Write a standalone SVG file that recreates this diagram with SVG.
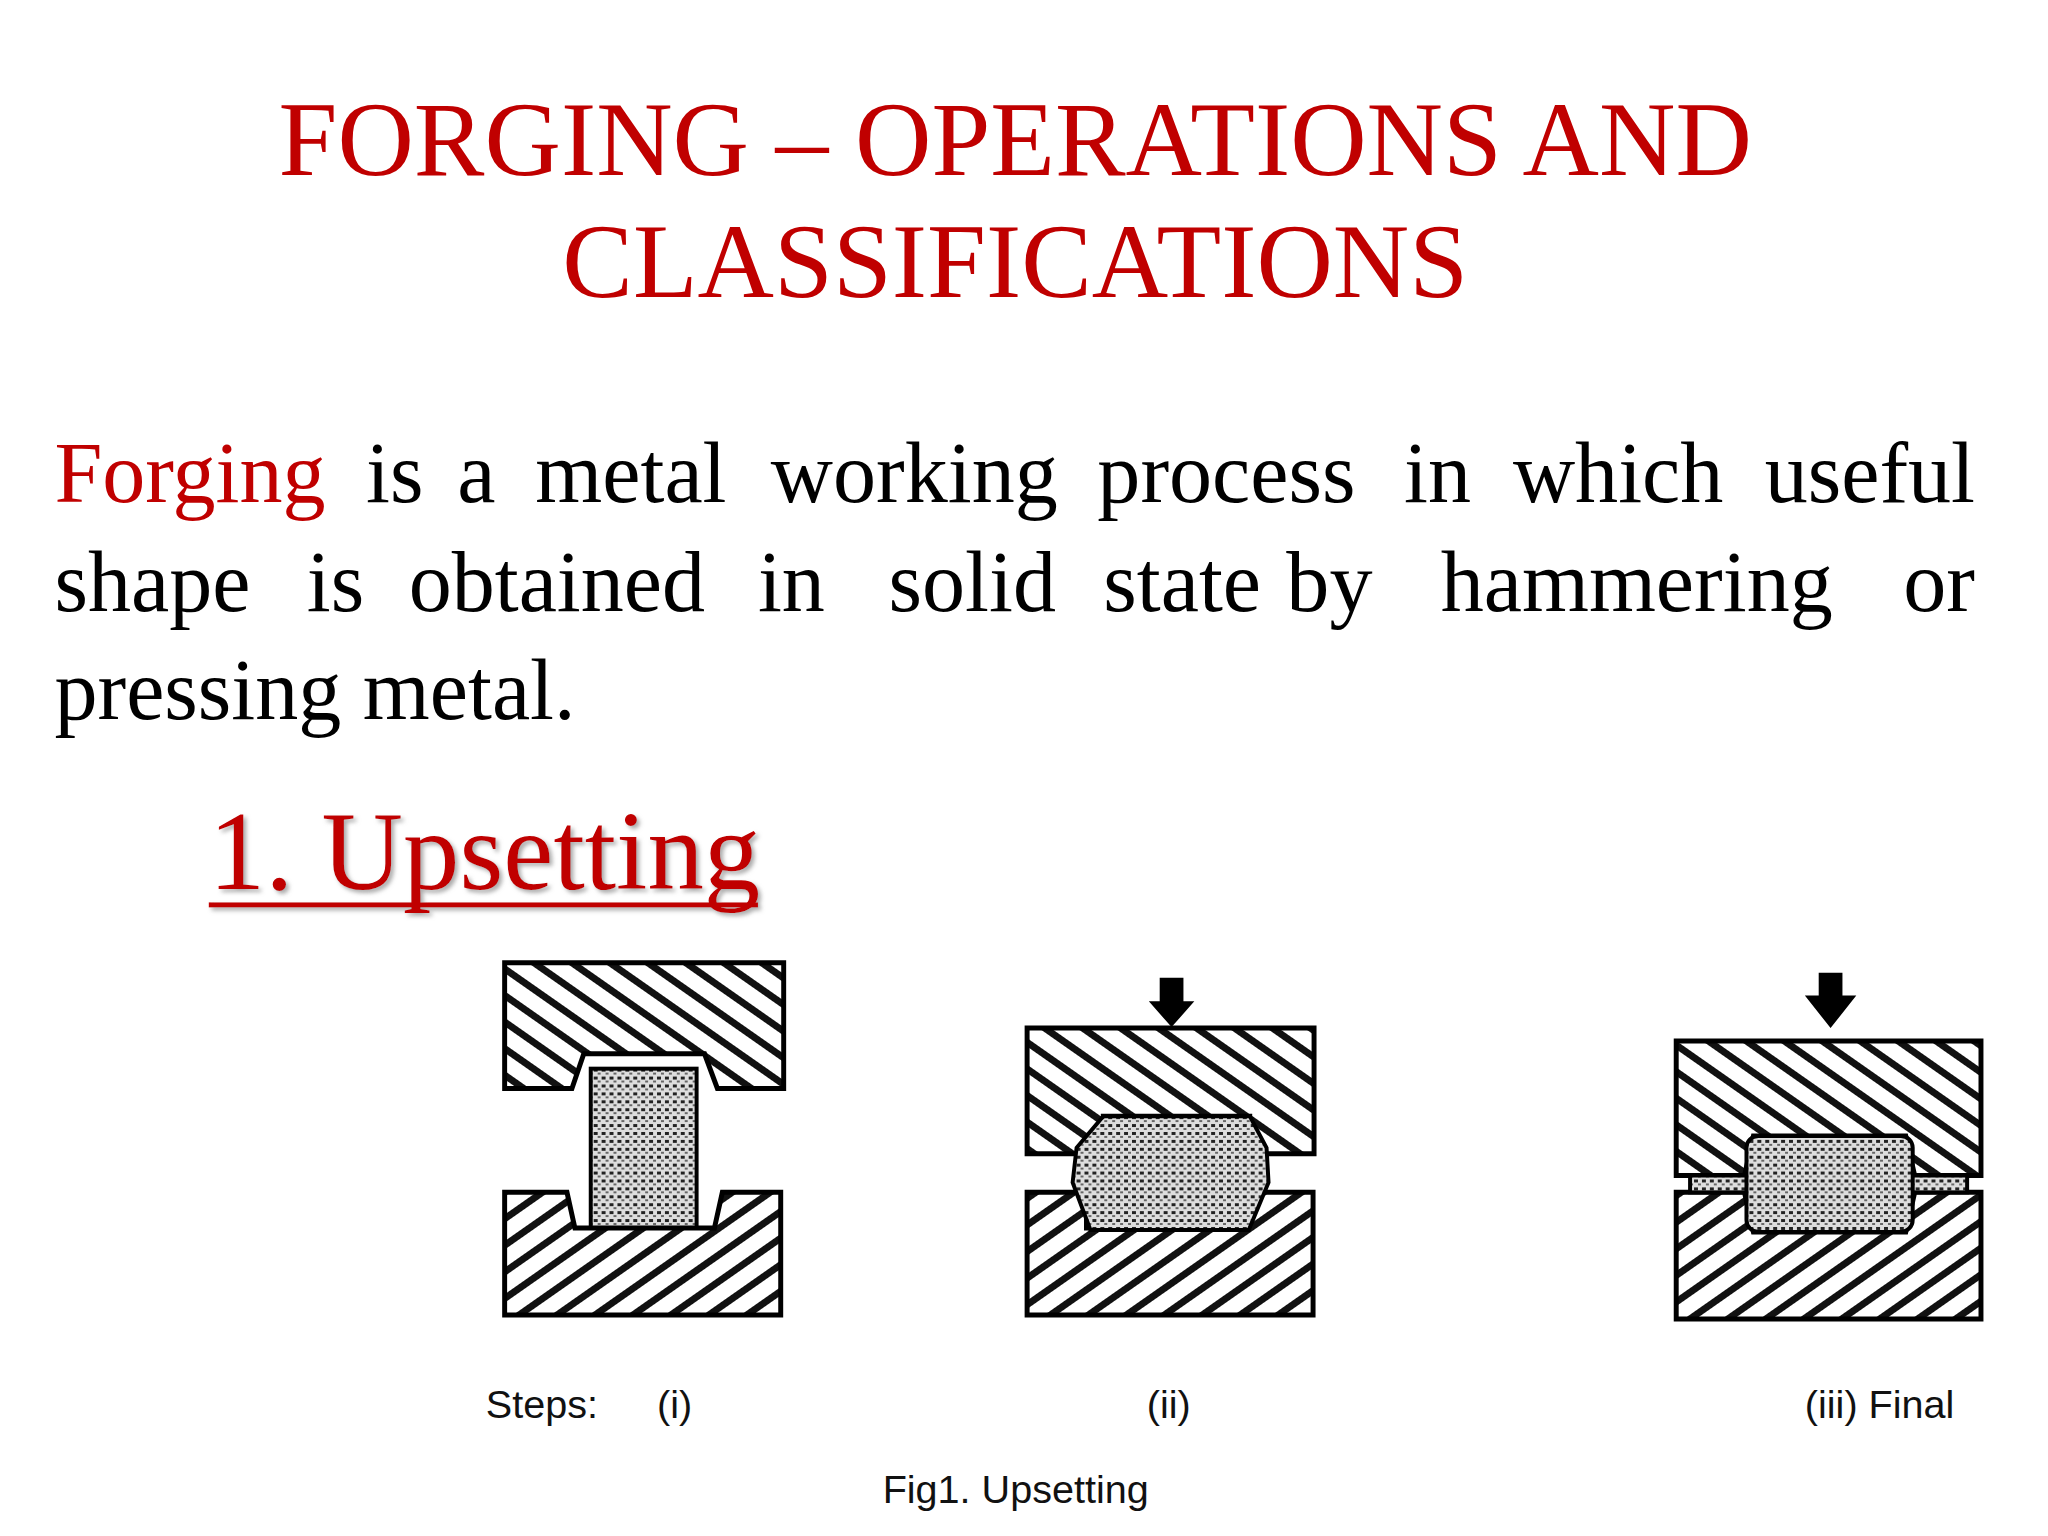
<svg xmlns="http://www.w3.org/2000/svg" width="2048" height="1536" viewBox="0 0 2048 1536">
<defs>
<pattern id="hd" width="22" height="22" patternUnits="userSpaceOnUse" patternTransform="rotate(35)">
<rect width="22" height="22" fill="#fff"/><rect x="0" y="0" width="22" height="7" fill="#111"/></pattern>
<pattern id="hu" width="22" height="22" patternUnits="userSpaceOnUse" patternTransform="rotate(-35)">
<rect width="22" height="22" fill="#fff"/><rect x="0" y="0" width="22" height="7" fill="#111"/></pattern>
<pattern id="dots" width="8" height="8" patternUnits="userSpaceOnUse">
<rect width="8" height="8" fill="#ddd"/><rect x="0" y="0" width="4" height="3" fill="#222"/><rect x="4" y="4" width="3" height="2" fill="#666"/></pattern>
<filter id="sh"><feDropShadow dx="3" dy="3" stdDeviation="2" flood-color="#888" flood-opacity="0.7"/></filter>
</defs>
<style>
.t{font-family:"Liberation Serif",serif;fill:#c00000;font-size:107px}
.p{font-family:"Liberation Serif",serif;fill:#000;font-size:87px}
.s{font-family:"Liberation Sans",Arial,sans-serif;font-size:40px;fill:#111}
.die{stroke:#000;stroke-width:5}
.bil{stroke:#000;stroke-width:4;fill:url(#dots)}
</style>
<rect width="2048" height="1536" fill="#fff"/>
<g transform="scale(0.9895)">
<g id="title">
<text class="t" x="1026" y="177" text-anchor="middle">FORGING – OPERATIONS AND</text>
<text class="t" x="1026" y="300" text-anchor="middle">CLASSIFICATIONS</text>
</g>
<g id="para" class="p">
<text x="55" y="507" style="fill:#c00000">Forging</text>
<text x="370" y="507">is</text><text x="462" y="507">a</text><text x="541" y="507">metal</text><text x="779" y="507">working</text><text x="1109" y="507">process</text><text x="1419" y="507">in</text><text x="1529" y="507">which</text><text x="1996" y="507" text-anchor="end">useful</text>
<text x="55" y="617">shape</text><text x="310" y="617">is</text><text x="413" y="617">obtained</text><text x="766" y="617">in</text><text x="898" y="617">solid</text><text x="1115" y="617">state</text><text x="1300" y="617">by</text><text x="1456" y="617">hammering</text><text x="1996" y="617" text-anchor="end">or</text>
<text x="55" y="727">pressing metal.</text>
</g>
<g id="heading" filter="url(#sh)">
<text x="211" y="898" style="font-family:'Liberation Serif',serif;font-size:114px;fill:#c00000">1. Upsetting</text>
<rect x="211" y="912" width="555" height="5" fill="#c00000"/>
</g>
<g id="fig1">
<path class="die" fill="url(#hd)" d="M510,973 H792 V1100 H725 L712,1065 H590 L578,1100 H510 Z"/>
<rect class="bil" x="597" y="1080" width="107" height="161"/>
<path class="die" fill="url(#hu)" d="M510,1205 H573 L581,1241 H722 L730,1205 H789 V1329 H510 Z"/>
</g>
<g id="fig2">
<path d="M1172,988 H1196 V1012 H1207 L1184,1038 L1161,1012 H1172 Z" fill="#000"/>
<path class="die" fill="url(#hd)" d="M1038,1039 H1328 V1166 H1263 V1128 H1115 V1166 H1038 Z"/>
<path class="die" fill="url(#hu)" d="M1038,1205 H1098 V1241 H1260 V1205 H1327 V1329 H1038 Z"/>
<path class="bil" d="M1115,1128 H1263 L1280,1160 L1282,1195 L1262,1243 H1102 L1084,1195 L1088,1160 Z"/>
</g>
<g id="fig3">
<path d="M1838,983 H1862 V1006 H1876 L1850,1039 L1824,1006 H1838 Z" fill="#000"/>
<path class="die" fill="url(#hd)" d="M1694,1052 H2002 V1188 H1935 L1926,1148 H1772 L1763,1188 H1694 Z"/>
<path class="die" fill="url(#hu)" d="M1694,1205 H1763 L1772,1245 H1926 L1935,1205 H2002 V1333 H1694 Z"/>
<rect class="bil" x="1708" y="1188" width="280" height="17" stroke-width="3"/>
<rect class="bil" x="1765" y="1148" width="168" height="97" rx="12"/>
</g>
<g id="labels">
<text class="s" x="491" y="1433">Steps:</text>
<text class="s" x="664" y="1433">(i)</text>
<text class="s" x="1159" y="1433">(ii)</text>
<text class="s" x="1824" y="1433">(iii) Final</text>
<text class="s" x="892" y="1519">Fig1. Upsetting</text>
</g>
</g>
</svg>
